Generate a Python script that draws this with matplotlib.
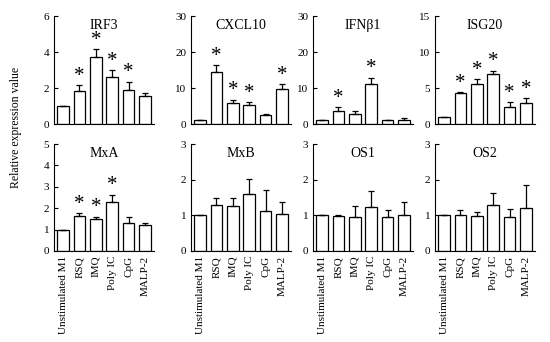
import numpy as np
import matplotlib.pyplot as plt

plt.rcParams['font.family'] = ['Liberation Serif', 'DejaVu Serif']

groups = ['Unstimulated M1', 'RSQ', 'IMQ', 'Poly IC', 'CpG', 'MALP-2']
genes = ['IRF3', 'CXCL10', 'IFNβ1', 'ISG20', 'MxA', 'MxB', 'OS1', 'OS2']

irf3 = [1.0, 1.85, 3.7, 2.6, 1.9, 1.55]
irf3_err = [0.0, 0.3, 0.45, 0.4, 0.45, 0.2]
cxcl10 = [1.0, 14.5, 5.9, 5.4, 2.6, 9.6]
cxcl10_err = [0.0, 1.8, 0.8, 0.6, 0.1, 1.5]
ifnb1 = [1.0, 3.5, 2.7, 11.0, 1.0, 1.2]
ifnb1_err = [0.1, 1.1, 1.0, 1.9, 0.2, 0.6]
isg20 = [1.0, 4.35, 5.6, 7.0, 2.4, 2.9]
isg20_err = [0.0, 0.1, 0.65, 0.4, 0.65, 0.7]
mxa = [1.0, 1.65, 1.5, 2.3, 1.3, 1.2]
mxa_err = [0.0, 0.12, 0.1, 0.33, 0.3, 0.13]
mxb = [1.0, 1.3, 1.25, 1.6, 1.12, 1.05]
mxb_err = [0.0, 0.18, 0.25, 0.42, 0.6, 0.33]
os1 = [1.0, 0.98, 0.95, 1.22, 0.95, 1.0]
os1_err = [0.0, 0.02, 0.3, 0.47, 0.2, 0.38]
os2 = [1.0, 1.02, 0.98, 1.28, 0.94, 1.2]
os2_err = [0.0, 0.12, 0.1, 0.35, 0.23, 0.65]

values = [irf3, cxcl10, ifnb1, isg20, mxa, mxb, os1, os2]
errors = [irf3_err, cxcl10_err, ifnb1_err, isg20_err, mxa_err, mxb_err, os1_err, os2_err]
# which bars carry a significance star
stars = [[1, 2, 3, 4], [1, 2, 3, 5], [1, 3], [1, 2, 3, 4, 5], [1, 2, 3], [], [], []]
ymax = [6, 30, 30, 15, 5, 3, 3, 3]
ystep = [2, 10, 10, 5, 1, 1, 1, 1]

fig = plt.figure(figsize=(5.5, 3.42), dpi=100)
lefts = [54, 191, 313, 435]
x = np.arange(len(groups))

for i, gene in enumerate(genes):
    row, col = divmod(i, 4)
    if row == 0:
        rect = [lefts[col] / 550, (342 - 124) / 342, 100 / 550, 108 / 342]
    else:
        rect = [lefts[col] / 550, (342 - 251) / 342, 100 / 550, 107 / 342]
    ax = fig.add_axes(rect)
    v = np.array(values[i])
    e = np.array(errors[i])
    ax.bar(x, v, width=0.72, color='white', edgecolor='black', linewidth=0.9)
    ax.errorbar(x, v, yerr=[np.zeros_like(e), e], fmt='none', ecolor='black',
                elinewidth=0.9, capsize=2.5, capthick=0.9)
    for j in stars[i]:
        ax.text(x[j], v[j] + e[j] - ymax[i] * 0.005, '*', ha='center', va='bottom',
                fontsize=15)
    ax.set_xlim(-0.55, 5.55)
    ax.set_ylim(0, ymax[i])
    ax.set_yticks(np.arange(0, ymax[i] + 0.01, ystep[i]))
    ax.tick_params(axis='y', direction='in', length=3, labelsize=8, width=0.8)
    ax.tick_params(axis='x', length=0)
    for s in ['top', 'right']:
        ax.spines[s].set_visible(False)
    ax.spines['left'].set_linewidth(0.8)
    ax.spines['bottom'].set_linewidth(0.8)
    ax.set_xticks(x)
    if row == 1:
        ax.set_xticklabels(groups, rotation=90, fontsize=8)
    else:
        ax.set_xticklabels([])
    ax.text(0.5, 0.97, gene, transform=ax.transAxes, ha='center', va='top',
            fontsize=10)

fig.text(0.03, 0.627, 'Relative expression value', rotation=90, ha='center',
         va='center', fontsize=8.5)

fig.savefig('out.png', dpi=100)
